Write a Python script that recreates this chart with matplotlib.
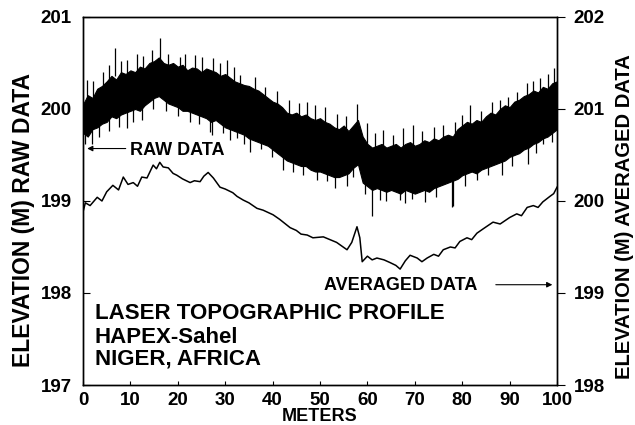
import numpy as np
import matplotlib
matplotlib.use("Agg")
import matplotlib.pyplot as plt

plt.rcParams['font.family'] = ['Liberation Sans', 'DejaVu Sans']
plt.rcParams['font.weight'] = 'bold'

# raw data: dense core of the trace (left axis, m), read every metre
raw_x = list(range(0, 101))
raw_top = [200.05, 200.15, 200.12, 200.22, 200.25, 200.30, 200.36, 200.32, 200.40, 200.38,
           200.42, 200.40, 200.46, 200.44, 200.50, 200.52, 200.56, 200.50, 200.48, 200.50,
           200.46, 200.48, 200.42, 200.45, 200.44, 200.40, 200.44, 200.42, 200.40, 200.36,
           200.38, 200.34, 200.30, 200.28, 200.26, 200.25, 200.22, 200.20, 200.16, 200.12,
           200.08, 200.06, 200.02, 199.96, 199.94, 199.96, 199.92, 199.94, 199.90, 199.88,
           199.90, 199.86, 199.84, 199.80, 199.78, 199.82, 199.76, 199.82, 199.88, 199.70,
           199.62, 199.58, 199.60, 199.62, 199.58, 199.60, 199.62, 199.58, 199.62, 199.64,
           199.60, 199.62, 199.66, 199.64, 199.68, 199.66, 199.70, 199.72, 199.70, 199.78,
           199.82, 199.86, 199.84, 199.88, 199.86, 199.92, 199.96, 199.94, 200.00, 200.04,
           200.02, 200.08, 200.10, 200.14, 200.16, 200.20, 200.18, 200.24, 200.22, 200.28,
           200.30]
raw_bot = [199.74, 199.70, 199.78, 199.80, 199.84, 199.86, 199.92, 199.90, 199.94, 199.96,
           199.98, 200.00, 199.98, 200.04, 200.08, 200.12, 200.14, 200.10, 200.06, 200.04,
           200.02, 199.98, 199.98, 199.96, 199.94, 199.92, 199.90, 199.86, 199.88, 199.84,
           199.80, 199.78, 199.76, 199.74, 199.72, 199.68, 199.66, 199.64, 199.62, 199.60,
           199.56, 199.52, 199.48, 199.44, 199.42, 199.40, 199.38, 199.38, 199.34, 199.32,
           199.32, 199.30, 199.28, 199.26, 199.26, 199.28, 199.30, 199.36, 199.40, 199.20,
           199.16, 199.12, 199.14, 199.12, 199.10, 199.12, 199.10, 199.08, 199.12, 199.10,
           199.08, 199.10, 199.12, 199.10, 199.14, 199.16, 199.18, 199.20, 199.22, 199.24,
           199.28, 199.30, 199.32, 199.30, 199.34, 199.36, 199.38, 199.40, 199.42, 199.44,
           199.48, 199.50, 199.52, 199.56, 199.58, 199.62, 199.64, 199.68, 199.70, 199.74,
           199.78]

# spikes sticking out of the core
spike_up_x = [0.8, 2.2, 4.2, 5.5, 6.8, 8.0, 9.3, 11.3, 12.6, 14.5, 16.3, 18, 20.5, 21.5,
              23.6, 25.2, 27.5, 29, 30.3, 31.8, 33.1, 36.3, 38.5, 41, 43.5, 45.5, 47.2,
              49, 51, 53.5, 55.5, 57.8, 59.9, 61.5, 63.3, 65.5, 67.5, 69.7, 71.5, 74,
              76, 78.5, 80, 81.6, 84, 86.2, 88, 89.7, 91.5, 93.7, 95, 96.4, 98, 99.4]
spike_up_y = [200.32, 200.30, 200.40, 200.48, 200.66, 200.52, 200.53, 200.60, 200.58,
              200.64, 200.77, 200.60, 200.57, 200.60, 200.59, 200.56, 200.55, 200.50,
              200.53, 200.46, 200.37, 200.35, 200.24, 200.20, 200.10, 200.06, 200.08,
              200.04, 200.02, 199.94, 199.92, 200.05, 199.85, 199.74, 199.77, 199.72,
              199.79, 199.83, 199.76, 199.80, 199.83, 199.86, 199.93, 200.04, 199.98,
              200.08, 200.10, 200.13, 200.18, 200.28, 200.30, 200.34, 200.38, 200.45]
spike_dn_x = [0.5, 1.8, 3.3, 5.5, 7.5, 9.2, 10.5, 12.5, 14.8, 17.5, 20, 22.5, 24.5,
              26.8, 27.3, 29.5, 31, 32.4, 34, 35.2, 37.5, 39.8, 42.2, 44.3, 46.5, 49.4,
              51.5, 53.2, 55.7, 57, 59.5, 61, 62.7, 64, 66.9, 67.9, 69.5, 72.2, 74.5,
              77.8, 78, 80.5, 83.1, 85.5, 88.4, 90.5, 93.9, 95.5, 97, 99]
spike_dn_y = [199.62, 199.62, 199.70, 199.76, 199.80, 199.79, 199.86, 199.88, 200.00,
              199.98, 199.92, 199.86, 199.84, 199.75, 199.72, 199.74, 199.66, 199.68,
              199.62, 199.53, 199.56, 199.48, 199.34, 199.32, 199.28, 199.23, 199.22,
              199.14, 199.16, 199.26, 199.08, 198.84, 199.01, 199.00, 199.01, 198.98,
              199.02, 198.99, 199.04, 198.93, 198.95, 199.16, 199.23, 199.28, 199.28,
              199.38, 199.40, 199.52, 199.62, 199.64]

# averaged data (right axis, m)
avg_x = [0, 0.5, 1.5, 3, 4, 5, 6.3, 7.5, 8.5, 9.5, 10.6, 11.5, 12.4, 13.5, 14.8,
         15.5, 16.2, 16.9, 18, 19, 19.8, 21, 22.6, 23.5, 24.7, 25.5, 26.4, 27.5,
         28.9, 30, 31.6, 32.5, 33.8, 35, 36.7, 38, 40.1, 41.5, 43.7, 45, 46, 47.3,
         48.5, 50.7, 52.1, 53.5, 55.7, 56.7, 57.8, 58.4, 58.9, 60, 61, 62, 63.5,
         64.8, 66, 66.9, 68, 69, 70.5, 71.5, 72.6, 74, 75, 76, 77.5, 78.5, 79.5,
         81, 82, 83.1, 84.5, 86.5, 88, 90, 91.5, 92.5, 93.7, 95, 96, 97, 98.5,
         99.3, 100]
avg_y = [199.88, 199.98, 199.95, 200.04, 200.00, 200.10, 200.17, 200.12, 200.26,
         200.18, 200.20, 200.16, 200.26, 200.25, 200.39, 200.35, 200.42, 200.37,
         200.36, 200.30, 200.28, 200.24, 200.20, 200.22, 200.21, 200.27, 200.31,
         200.25, 200.15, 200.13, 200.09, 200.05, 200.01, 199.98, 199.92, 199.90,
         199.85, 199.80, 199.71, 199.68, 199.64, 199.63, 199.60, 199.61, 199.58,
         199.55, 199.47, 199.55, 199.72, 199.60, 199.34, 199.40, 199.36, 199.38,
         199.36, 199.33, 199.30, 199.26, 199.35, 199.41, 199.38, 199.34, 199.38,
         199.42, 199.40, 199.47, 199.50, 199.49, 199.56, 199.60, 199.58, 199.65,
         199.70, 199.77, 199.75, 199.82, 199.86, 199.84, 199.93, 199.95, 199.93,
         199.99, 200.05, 200.08, 200.15]

fig = plt.figure(figsize=(6.35, 4.25), dpi=100)
ax = fig.add_axes([0.1307, 0.0941, 0.7465, 0.866])

# raw data: dense core plus spikes
ax.fill_between(raw_x, raw_bot, raw_top, color='black', lw=0.8)
spike_up_y = np.array(spike_up_y)
spike_dn_y = np.array(spike_dn_y)
ax.vlines(spike_up_x, spike_up_y - 0.3, spike_up_y, color='black', lw=0.9)
ax.vlines(spike_dn_x, spike_dn_y, spike_dn_y + 0.3, color='black', lw=0.9)

ax.set_xlim(0, 100)
ax.set_ylim(197, 201)
ax.set_xticks(range(0, 101, 10))
ax.set_yticks([197, 198, 199, 200, 201])
ax.tick_params(axis='x', direction='in', length=3, pad=5, labelsize=13.5)
ax.tick_params(axis='y', direction='in', length=5, pad=8, labelsize=13.5)
ax.set_xlabel('METERS', fontsize=13, fontweight='bold', labelpad=-1)

ax2 = ax.twinx()
ax2.plot(avg_x, avg_y, color='black', lw=1.1)
ax2.set_ylim(198, 202)
ax2.set_yticks([198, 199, 200, 201, 202])
ax2.tick_params(axis='y', direction='out', length=6, pad=6, labelsize=13.5)

for a in (ax, ax2):
    for s in a.spines.values():
        s.set_linewidth(1.0)

# annotations
ax.annotate('', xy=(0.3, 199.57), xytext=(9.6, 199.57),
            arrowprops=dict(arrowstyle='-|>', color='black', lw=0.8, mutation_scale=8))
ax.text(9.9, 199.55, 'RAW DATA', fontsize=13, fontweight='bold', va='center', ha='left')
ax2.text(50.8, 199.08, 'AVERAGED DATA', fontsize=13, fontweight='bold', va='center', ha='left')
ax2.annotate('', xy=(99.6, 199.09), xytext=(86.5, 199.09),
             arrowprops=dict(arrowstyle='-|>', color='black', lw=0.8, mutation_scale=8))

ax.text(2.5, 197.78, 'LASER TOPOGRAPHIC PROFILE', fontsize=16, fontweight='bold', va='center')
ax.text(2.5, 197.52, 'HAPEX-Sahel', fontsize=16, fontweight='bold', va='center')
ax.text(2.5, 197.28, 'NIGER, AFRICA', fontsize=16, fontweight='bold', va='center')

fig.text(24 / 635, 1 - 220 / 425, 'ELEVATION (M) RAW DATA', rotation=90,
         fontsize=16.5, fontweight='bold', ha='center', va='center')
fig.text(624 / 635, 1 - 217 / 425, 'ELEVATION (M) AVERAGED DATA', rotation=90,
         fontsize=14.5, fontweight='bold', ha='center', va='center')

fig.savefig('out.png', dpi=100)
